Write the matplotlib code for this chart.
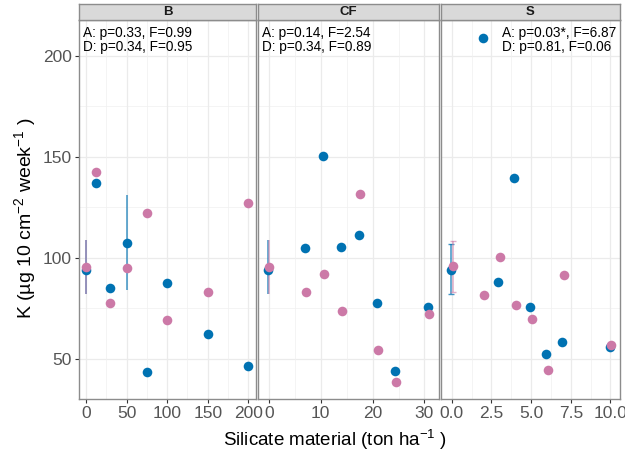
import matplotlib
matplotlib.use("Agg")
import matplotlib.pyplot as plt
from matplotlib.ticker import FixedLocator

plt.rcParams['font.family'] = ['Liberation Sans', 'DejaVu Sans']
plt.rcParams['mathtext.fontset'] = 'custom'
plt.rcParams['mathtext.rm'] = 'Liberation Sans'
plt.rcParams['mathtext.it'] = 'Liberation Sans:italic'
plt.rcParams['mathtext.bf'] = 'Liberation Sans:bold'

# ---------------- data ----------------
panels = ["B", "CF", "S"]

B_x = [0, 12, 30, 50, 75, 100, 150, 200]
B_A = [94, 137, 85.3, 107.4, 43.7, 87.8, 62.2, 46.7]
B_D = [95.7, 142.6, 77.7, 95.0, 122.1, 69.3, 83.0, 127.4]

CF_x = [0, 7, 10.5, 14, 17.5, 21, 24.5, 30.8]
CF_A = [94, 105.1, 150.5, 105.6, 111.4, 77.5, 44.2, 75.7]
CF_D = [95.7, 83.0, 92.1, 73.9, 131.7, 54.5, 38.6, 72.1]

S_x = [0, 2, 3, 4, 5, 6, 7, 10]
S_A = [94, 208.8, 88.1, 139.6, 75.7, 52.5, 58.3, 56.0]
S_D = [96, 81.7, 100.3, 76.7, 69.8, 44.7, 91.4, 57.0]

# error bars: (x, low, high)
B_errA = [(0, 82, 109), (50, 84, 131)]
B_errD = [(0, 82, 109)]
CF_errA = [(0, 82, 109)]
CF_errD = [(0, 82, 109)]
S_errA = [(0, 82, 107)]
S_errD = [(0, 83, 108.6)]

annot = {
    "B": ["A: p=0.33, F=0.99", "D: p=0.34, F=0.95"],
    "CF": ["A: p=0.14, F=2.54", "D: p=0.34, F=0.89"],
    "S": ["A: p=0.03*, F=6.87", "D: p=0.81, F=0.06"],
}

y_ticks = [50, 100, 150, 200]
B_ticks = [0, 50, 100, 150, 200]
CF_ticks = [0, 10, 20, 30]
S_ticks = [0.0, 2.5, 5.0, 7.5, 10.0]
S_labels = ["0.0", "2.5", "5.0", "7.5", "10.0"]

# ---------------- style ----------------
col_A = "#0072B2"
col_D = "#CC79A7"
W, H = 625, 461
fig = plt.figure(figsize=(W / 100, H / 100), dpi=100)

def frac(l, r, t, b):
    return [l / W, 1 - b / H, (r - l) / W, (b - t) / H]

layout = {
    "B":  dict(px=(79, 256), xlim=(-8.6, 209.4), x=B_x, A=B_A, D=B_D,
               eA=B_errA, eD=B_errD, ticks=B_ticks, labels=[str(t) for t in B_ticks],
               minor=[25, 75, 125, 175], dodge=0.0, cap=0, ann_x=0.025),
    "CF": dict(px=(258, 439), xlim=(-2.1, 32.8), x=CF_x, A=CF_A, D=CF_D,
               eA=CF_errA, eD=CF_errD, ticks=CF_ticks, labels=[str(t) for t in CF_ticks],
               minor=[5, 15, 25], dodge=0.1, cap=0, ann_x=0.02),
    "S":  dict(px=(441, 620), xlim=(-0.68, 10.6), x=S_x, A=S_A, D=S_D,
               eA=S_errA, eD=S_errD, ticks=S_ticks, labels=S_labels,
               minor=[1.25, 3.75, 6.25, 8.75], dodge=0.06, cap=2, ann_x=0.34),
}

top, bot = 20, 399
ylim = (30.2, 217.8)

for i, name in enumerate(panels):
    L = layout[name]
    l, r = L["px"]
    ax = fig.add_axes(frac(l, r, top, bot))
    ax.set_xlim(*L["xlim"])
    ax.set_ylim(*ylim)
    ax.set_facecolor("white")
    # grid
    for v in [75, 125, 175]:
        ax.axhline(v, color="#F0F0F0", lw=0.5, zorder=0)
    for v in y_ticks:
        ax.axhline(v, color="#EBEBEB", lw=0.9, zorder=0)
    for v in L["minor"]:
        ax.axvline(v, color="#F0F0F0", lw=0.5, zorder=0)
    for v in L["ticks"]:
        ax.axvline(v, color="#EBEBEB", lw=0.9, zorder=0)
    # error bars
    d = L["dodge"]
    for (x, lo, hi) in L["eA"]:
        ax.errorbar([x - d], [(lo + hi) / 2], yerr=[[(hi - lo) / 2], [(hi - lo) / 2]],
                    fmt="none", ecolor=col_A, elinewidth=1.1, capsize=L["cap"],
                    alpha=0.75, zorder=2)
    for (x, lo, hi) in L["eD"]:
        ax.errorbar([x + d], [(lo + hi) / 2], yerr=[[(hi - lo) / 2], [(hi - lo) / 2]],
                    fmt="none", ecolor=col_D, elinewidth=1.1, capsize=L["cap"],
                    alpha=0.6, zorder=2)
    ax.scatter([x - d for x in L["x"]], L["A"], s=48, color=col_A, lw=0, zorder=3)
    ax.scatter([x + d for x in L["x"]], L["D"], s=48, color=col_D, lw=0, zorder=4)

    for sp in ax.spines.values():
        sp.set_color("#8C8C8C")
        sp.set_linewidth(1.0)
    ax.xaxis.set_major_locator(FixedLocator(L["ticks"]))
    ax.set_xticklabels(L["labels"])
    ax.yaxis.set_major_locator(FixedLocator(y_ticks))
    ax.tick_params(axis="both", colors="#333333", labelcolor="#555555",
                   labelsize=12.5, length=3, width=0.8, pad=2)
    if i > 0:
        ax.tick_params(axis="y", left=False, labelleft=False)

    ax.text(L["ann_x"], 1 - 13 / (bot - top), annot[name][0],
            transform=ax.transAxes, fontsize=9.8, va="center", ha="left", color="black")
    ax.text(L["ann_x"], 1 - 27.5 / (bot - top), annot[name][1],
            transform=ax.transAxes, fontsize=9.8, va="center", ha="left", color="black")

    # strip
    sax = fig.add_axes(frac(l, r, 4, 20))
    sax.set_facecolor("#D9D9D9")
    sax.set_xticks([]); sax.set_yticks([])
    for sp in sax.spines.values():
        sp.set_color("#8C8C8C")
        sp.set_linewidth(1.0)
    sax.text(0.5, 0.5, name, transform=sax.transAxes, ha="center", va="center",
             fontsize=9.5, fontweight="bold", color="#1A1A1A")

fig.text(25 / W, 1 - 218 / H, "K (µg 10 cm$^{-2}$ week$^{-1}$ )", rotation=90,
         ha="center", va="center", fontsize=14, color="black")
fig.text(335 / W, 1 - 440 / H, "Silicate material (ton ha$^{-1}$ )",
         ha="center", va="center", fontsize=13.5, color="black")

fig.savefig("out.png", dpi=100)
